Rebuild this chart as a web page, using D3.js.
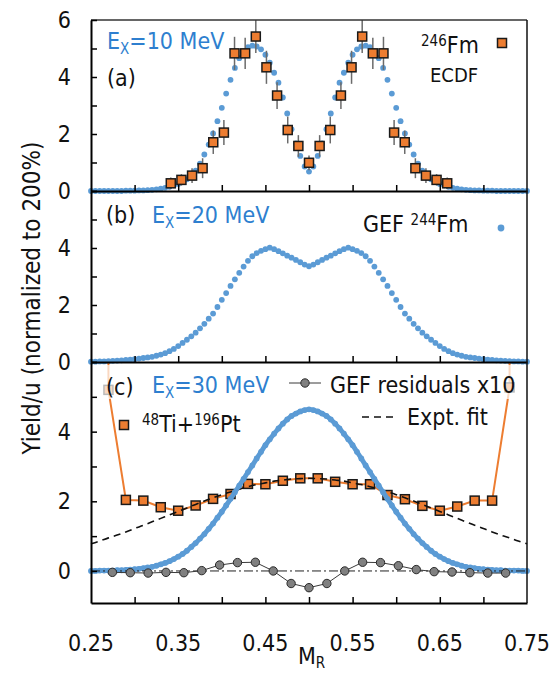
<!DOCTYPE html>
<html>
<head>
<meta charset="utf-8">
<script src="https://cdn.jsdelivr.net/npm/d3@7"></script>
<style>
body { margin: 0; background: #fff; }
svg text { font-family: "DejaVu Sans Condensed", "DejaVu Sans", sans-serif; }
</style>
</head>
<body>
<script>
// mass ratio grid shared by the GEF curves (step 0.005)
var mrGrid = [0.250,0.255,0.260,0.265,0.270,0.275,0.280,0.285,0.290,0.295,
  0.300,0.305,0.310,0.315,0.320,0.325,0.330,0.335,0.340,0.345,
  0.350,0.355,0.360,0.365,0.370,0.375,0.380,0.385,0.390,0.395,
  0.400,0.405,0.410,0.415,0.420,0.425,0.430,0.435,0.440,0.445,
  0.450,0.455,0.460,0.465,0.470,0.475,0.480,0.485,0.490,0.495,
  0.500,0.505,0.510,0.515,0.520,0.525,0.530,0.535,0.540,0.545,
  0.550,0.555,0.560,0.565,0.570,0.575,0.580,0.585,0.590,0.595,
  0.600,0.605,0.610,0.615,0.620,0.625,0.630,0.635,0.640,0.645,
  0.650,0.655,0.660,0.665,0.670,0.675,0.680,0.685,0.690,0.695,
  0.700,0.705,0.710,0.715,0.720,0.725,0.730,0.735,0.740,0.745,0.750];

// GEF 244Fm, Ex = 10 MeV
var gef10 = [0.00,0.00,0.00,0.00,0.00,0.00,0.00,0.00,0.01,0.01,
  0.01,0.02,0.02,0.03,0.04,0.06,0.08,0.11,0.15,0.20,
  0.25,0.32,0.41,0.53,0.71,0.96,1.28,1.63,2.02,2.45,
  2.92,3.42,3.90,4.32,4.66,4.90,5.05,5.10,5.07,4.97,
  4.78,4.50,4.15,3.80,3.28,2.72,2.17,1.67,1.23,0.86,
  0.68,
  0.86,1.23,1.67,2.17,2.72,3.28,3.80,4.15,4.50,4.78,
  4.97,5.07,5.10,5.05,4.90,4.66,4.32,3.90,3.42,2.92,
  2.45,2.02,1.63,1.28,0.96,0.71,0.53,0.41,0.32,0.25,
  0.20,0.15,0.11,0.08,0.06,0.04,0.03,0.02,0.02,0.01,
  0.01,0.01,0.00,0.00,0.00,0.00,0.00,0.00,0.00,0.00];

// GEF 244Fm, Ex = 20 MeV
var gef20 = [0.01,0.01,0.02,0.02,0.03,0.04,0.05,0.06,0.07,0.08,
  0.10,0.12,0.14,0.16,0.18,0.22,0.26,0.31,0.38,0.46,
  0.56,0.67,0.78,0.90,1.03,1.18,1.34,1.52,1.70,1.93,
  2.18,2.42,2.67,2.90,3.13,3.35,3.55,3.71,3.82,3.90,
  3.96,4.01,3.96,3.89,3.81,3.73,3.66,3.58,3.50,3.42,
  3.36,
  3.42,3.50,3.58,3.66,3.73,3.81,3.89,3.96,4.01,3.96,
  3.90,3.82,3.71,3.55,3.35,3.13,2.90,2.67,2.42,2.18,
  1.93,1.70,1.52,1.34,1.18,1.03,0.90,0.78,0.67,0.56,
  0.46,0.38,0.31,0.26,0.22,0.18,0.16,0.14,0.12,0.10,
  0.08,0.07,0.06,0.05,0.04,0.03,0.02,0.02,0.01,0.01];

// GEF 244Fm, Ex = 30 MeV
var gef30 = [0.00,0.00,0.01,0.01,0.01,0.01,0.02,0.02,0.03,0.04,
  0.05,0.06,0.08,0.10,0.12,0.15,0.19,0.23,0.28,0.34,
  0.41,0.49,0.58,0.69,0.80,0.93,1.06,1.21,1.36,1.53,
  1.70,1.88,2.07,2.26,2.45,2.64,2.84,3.03,3.23,3.42,
  3.61,3.78,3.94,4.09,4.23,4.35,4.45,4.52,4.58,4.62,
  4.64,
  4.62,4.58,4.52,4.45,4.35,4.23,4.09,3.94,3.78,3.61,
  3.42,3.23,3.03,2.84,2.64,2.45,2.26,2.07,1.88,1.70,
  1.53,1.36,1.21,1.06,0.93,0.80,0.69,0.58,0.49,0.41,
  0.34,0.28,0.23,0.19,0.15,0.12,0.10,0.08,0.06,0.05,
  0.04,0.03,0.02,0.02,0.01,0.01,0.01,0.01,0.00,0.00];

// 246Fm ECDF data (a)
var ecdfM = [0.3415,0.3537,0.3659,0.3780,0.3902,0.4024,0.4146,0.4268,0.4390,0.4512,0.4634,0.4756,0.4878,
  0.5000,0.5122,0.5244,0.5366,0.5488,0.5610,0.5732,0.5854,0.5976,0.6098,0.6220,0.6341,0.6463,0.6585];
var ecdfY = [0.27,0.39,0.54,0.80,1.71,2.05,4.83,4.83,5.42,4.34,3.35,2.14,1.58,
  0.99,1.58,2.14,3.35,4.34,5.42,4.83,4.83,2.05,1.71,0.80,0.54,0.39,0.27];
var ecdfErr = [0.20,0.20,0.26,0.35,0.41,0.44,0.58,0.55,0.58,0.58,0.47,0.47,0.38,
  0.26,0.38,0.47,0.47,0.58,0.58,0.55,0.58,0.44,0.41,0.35,0.26,0.20,0.20];

// 48Ti+196Pt data (c); outermost entries run off the top of the panel
var tiPtM = [0.270,0.270,0.290,0.310,0.330,0.350,0.370,0.390,0.410,0.430,0.450,0.470,0.490,
  0.510,0.530,0.550,0.570,0.590,0.610,0.630,0.650,0.670,0.690,0.710,0.730,0.730];
var tiPtY = [7.00,5.20,2.04,2.02,1.83,1.73,1.88,2.07,2.21,2.50,2.49,2.59,2.66,
  2.66,2.56,2.49,2.49,2.18,2.06,1.87,1.73,1.85,2.02,2.02,5.27,7.00];

// expt. fit (c), step 0.01
var fitM = [0.25,0.26,0.27,0.28,0.29,0.30,0.31,0.32,0.33,0.34,0.35,0.36,0.37,0.38,0.39,0.40,0.41,0.42,0.43,0.44,
  0.45,0.46,0.47,0.48,0.49,0.50,0.51,0.52,0.53,0.54,0.55,0.56,0.57,0.58,0.59,0.60,0.61,0.62,0.63,0.64,
  0.65,0.66,0.67,0.68,0.69,0.70,0.71,0.72,0.73,0.74,0.75];
var fitY = [0.78,0.86,0.95,1.03,1.12,1.22,1.31,1.41,1.51,1.61,1.71,1.81,1.91,2.01,2.10,2.19,2.27,2.35,2.42,2.48,
  2.53,2.58,2.61,2.64,2.65,2.66,2.65,2.64,2.61,2.58,2.53,2.48,2.42,2.35,2.27,2.19,2.10,2.01,1.91,1.81,
  1.71,1.61,1.51,1.41,1.31,1.22,1.12,1.03,0.95,0.86,0.78];

// GEF residuals x10 (c)
var resM = [0.2745,0.2950,0.3155,0.3360,0.3565,0.3770,0.3975,0.4180,0.4385,0.4590,0.4795,0.5000,
  0.5205,0.5410,0.5615,0.5820,0.6025,0.6230,0.6435,0.6640,0.6845,0.7050,0.7255];
var resY = [-0.04,-0.05,-0.06,-0.04,-0.05,0.01,0.17,0.24,0.25,0.00,-0.36,-0.48,
  -0.36,0.00,0.25,0.24,0.15,0.04,-0.02,-0.03,-0.05,-0.06,-0.06];

// tick values
var xMinor = [0.30,0.35,0.40,0.45,0.50,0.55,0.60,0.65,0.70];
var xLabels = [0.25,0.35,0.45,0.55,0.65,0.75];
var yTicks = [0,1,2,3,4,5,6];

var w = 552;
var h = 674;
var blue = "#5b9bd5";
var textBlue = "#2e7fcf";
var orange = "#ed7d31";

var svg = d3.select("body")
            .append("svg")
            .attr("width", w)
            .attr("height", h);

var x = d3.scaleLinear().domain([0.25, 0.75]).range([91, 527]);
var yA = d3.scaleLinear().domain([0, 6]).range([191, 20]);
var yB = d3.scaleLinear().domain([0, 6]).range([362, 191]);
var yC = d3.scaleLinear().domain([-0.92, 6]).range([603, 362]);

// clip regions
var defs = svg.append("defs");
defs.append("clipPath").attr("id", "clipA")
  .append("rect").attr("x", 0).attr("y", 20).attr("width", w).attr("height", 171);
defs.append("clipPath").attr("id", "clipC")
  .append("rect").attr("x", 0).attr("y", 362).attr("width", w).attr("height", 241);

var gefPoints = function(vals) {
  return mrGrid.map(function(m, i) { return [m, vals[i]]; });
};

var drawDots = function(vals, y) {
  svg.append("g").selectAll("circle")
    .data(gefPoints(vals))
    .enter().append("circle")
    .attr("cx", function(d) { return x(d[0]); })
    .attr("cy", function(d) { return y(d[1]); })
    .attr("r", 2.9)
    .attr("fill", blue);
};

var square = function(g, cx, cy) {
  g.append("rect")
    .attr("x", cx - 4.5).attr("y", cy - 4.5)
    .attr("width", 9).attr("height", 9)
    .attr("fill", orange)
    .attr("stroke", "#1a1a1a")
    .attr("stroke-width", 1.5);
};

//---- panel (a)
drawDots(gef10, yA);

var gA = svg.append("g").attr("clip-path", "url(#clipA)");
gA.selectAll("line.err")
  .data(ecdfM)
  .enter().append("line")
  .attr("x1", function(d) { return x(d); })
  .attr("x2", function(d) { return x(d); })
  .attr("y1", function(d, i) { return yA(ecdfY[i] - ecdfErr[i]); })
  .attr("y2", function(d, i) { return yA(ecdfY[i] + ecdfErr[i]); })
  .attr("stroke", "#6b6b6b")
  .attr("stroke-width", 1.5);
ecdfM.forEach(function(m, i) { square(gA, x(m), yA(ecdfY[i])); });

//---- panel (b)
drawDots(gef20, yB);

//---- panel (c)
var gC = svg.append("g").attr("clip-path", "url(#clipC)");
var tiLine = d3.line()
  .x(function(d, i) { return x(tiPtM[i]); })
  .y(function(d) { return yC(d); });
gC.append("path")
  .attr("d", tiLine(tiPtY))
  .attr("fill", "none")
  .attr("stroke", orange)
  .attr("stroke-width", 2);
tiPtM.forEach(function(m, i) {
  if (tiPtY[i] <= 6) square(gC, x(m), yC(tiPtY[i]));
});

// expt fit
var fitLine = d3.line()
  .x(function(d, i) { return x(fitM[i]); })
  .y(function(d) { return yC(d); })
  .curve(d3.curveMonotoneX);
svg.append("path")
  .attr("d", fitLine(fitY))
  .attr("fill", "none")
  .attr("stroke", "#111")
  .attr("stroke-width", 1.6)
  .attr("stroke-dasharray", "7,5");

// GEF 30 MeV: dense points, drawn as a thick band plus dots
var bandLine = d3.line()
  .x(function(d) { return x(d[0]); })
  .y(function(d) { return yC(d[1]); })
  .curve(d3.curveCatmullRom);
svg.append("path")
  .attr("d", bandLine(gefPoints(gef30)))
  .attr("fill", "none")
  .attr("stroke", blue)
  .attr("stroke-width", 4.8)
  .attr("stroke-linecap", "round");
drawDots(gef30, yC);

// zero line
svg.append("line")
  .attr("x1", x(0.25)).attr("x2", x(0.75))
  .attr("y1", yC(0)).attr("y2", yC(0))
  .attr("stroke", "#222")
  .attr("stroke-width", 1)
  .attr("stroke-dasharray", "9,3,2,3");

// residuals
var resLine = d3.line()
  .x(function(d, i) { return x(resM[i]); })
  .y(function(d) { return yC(d); });
svg.append("path")
  .attr("d", resLine(resY))
  .attr("fill", "none")
  .attr("stroke", "#3a3a3a")
  .attr("stroke-width", 1);
svg.append("g").selectAll("circle")
  .data(resY)
  .enter().append("circle")
  .attr("cx", function(d, i) { return x(resM[i]); })
  .attr("cy", function(d) { return yC(d); })
  .attr("r", 4.2)
  .attr("fill", "#808080")
  .attr("stroke", "#2a2a2a")
  .attr("stroke-width", 1);

// semi transparent legend box at the top of (c)
svg.append("rect")
  .attr("x", 95).attr("y", 365)
  .attr("width", 422).attr("height", 34)
  .attr("fill", "#fff")
  .attr("opacity", 0.7);

//---- axes and frame
var styleAxis = function(g) {
  g.select(".domain").attr("stroke", "#000").attr("stroke-width", 2);
  g.selectAll(".tick line").attr("stroke", "#000").attr("stroke-width", 1.5);
  g.selectAll("text").attr("font-size", 23).attr("fill", "#111")
    .style("font-family", "'DejaVu Sans Condensed', 'DejaVu Sans', sans-serif");
};

[[yA, 191], [yB, 362], [yC, 603]].forEach(function(p) {
  svg.append("g")
    .attr("transform", "translate(0," + p[1] + ")")
    .call(d3.axisBottom(x).tickValues(xMinor).tickSize(-6).tickSizeOuter(0).tickFormat(""))
    .call(styleAxis);
});

// frame top and right
svg.append("line").attr("x1", 91).attr("x2", 527).attr("y1", 20).attr("y2", 20)
  .attr("stroke", "#333").attr("stroke-width", 1.5);
svg.append("line").attr("x1", 527).attr("x2", 527).attr("y1", 20).attr("y2", 603)
  .attr("stroke", "#111").attr("stroke-width", 1.5);

var yAxis = function(y, labels) {
  svg.append("g")
    .attr("transform", "translate(91,0)")
    .call(d3.axisLeft(y).tickValues(yTicks.filter(function(t) { return t <= y.domain()[1]; }))
      .tickSize(-6).tickSizeOuter(0).tickPadding(20)
      .tickFormat(function(d) { return labels.indexOf(d) >= 0 ? d : ""; }))
    .call(styleAxis);
};
yAxis(yA, [0, 2, 4, 6]);
yAxis(yB, [0, 2, 4]);
yAxis(yC, [0, 2, 4]);

// x tick labels
svg.append("g")
  .selectAll("text")
  .data(xLabels)
  .enter().append("text")
  .attr("x", function(d) { return x(d); })
  .attr("y", 651)
  .attr("text-anchor", "middle")
  .attr("font-size", 23)
  .attr("fill", "#111")
  .text(function(d) { return d.toFixed(2); });

// axis titles
var mr = svg.append("text").attr("x", 298).attr("y", 664).attr("font-size", 23).attr("fill", "#111");
mr.append("tspan").text("M");
mr.append("tspan").attr("font-size", 15).attr("dy", 4).text("R");

svg.append("text")
  .attr("transform", "translate(40,298) rotate(-90)")
  .attr("text-anchor", "middle")
  .attr("font-size", 24)
  .attr("fill", "#111")
  .text("Yield/u (normalized to 200%)");

//---- panel labels and legends
var exLabel = function(px, py, val) {
  var t = svg.append("text").attr("x", px).attr("y", py).attr("font-size", 23).attr("fill", textBlue);
  t.append("tspan").text("E");
  t.append("tspan").attr("font-size", 15).attr("dy", 5).text("X");
  t.append("tspan").attr("dy", -5).text("=" + val + " MeV");
};
var plain = function(px, py, str, size) {
  return svg.append("text").attr("x", px).attr("y", py)
    .attr("font-size", size || 23).attr("fill", "#111").text(str);
};

exLabel(107, 49, 10);
plain(107, 86, "(a)");
var fm = svg.append("text").attr("x", 421).attr("y", 53).attr("font-size", 23).attr("fill", "#111");
fm.append("tspan").attr("font-size", 15).attr("dy", -7).text("246");
fm.append("tspan").attr("dy", 7).text("Fm");
plain(430, 82, "ECDF", 20);
square(svg, 502, 43);

plain(106, 223, "(b)");
exLabel(152, 223, 20);
var gef = svg.append("text").attr("x", 363).attr("y", 232).attr("font-size", 23).attr("fill", "#111");
gef.append("tspan").text("GEF ");
gef.append("tspan").attr("font-size", 15).attr("dy", -7).text("244");
gef.append("tspan").attr("dy", 7).text("Fm");
svg.append("circle").attr("cx", 501).attr("cy", 228).attr("r", 3.4).attr("fill", blue);

plain(106, 395, "(c)");
exLabel(152, 393, 30);
svg.append("line").attr("x1", 289).attr("x2", 321).attr("y1", 383).attr("y2", 383)
  .attr("stroke", "#3a3a3a").attr("stroke-width", 1);
svg.append("circle").attr("cx", 305).attr("cy", 383).attr("r", 4.2)
  .attr("fill", "#808080").attr("stroke", "#2a2a2a");
plain(330, 393, "GEF residuals x10");
svg.append("line").attr("x1", 362).attr("x2", 393).attr("y1", 417).attr("y2", 417)
  .attr("stroke", "#111").attr("stroke-width", 1.6).attr("stroke-dasharray", "7,5");
plain(407, 425, "Expt. fit");
square(svg, 124, 425);
var ti = svg.append("text").attr("x", 142).attr("y", 432).attr("font-size", 23).attr("fill", "#111");
ti.append("tspan").attr("font-size", 15).attr("dy", -7).text("48");
ti.append("tspan").attr("dy", 7).text("Ti+");
ti.append("tspan").attr("font-size", 15).attr("dy", -7).text("196");
ti.append("tspan").attr("dy", 7).text("Pt");
</script>
</body>
</html>
